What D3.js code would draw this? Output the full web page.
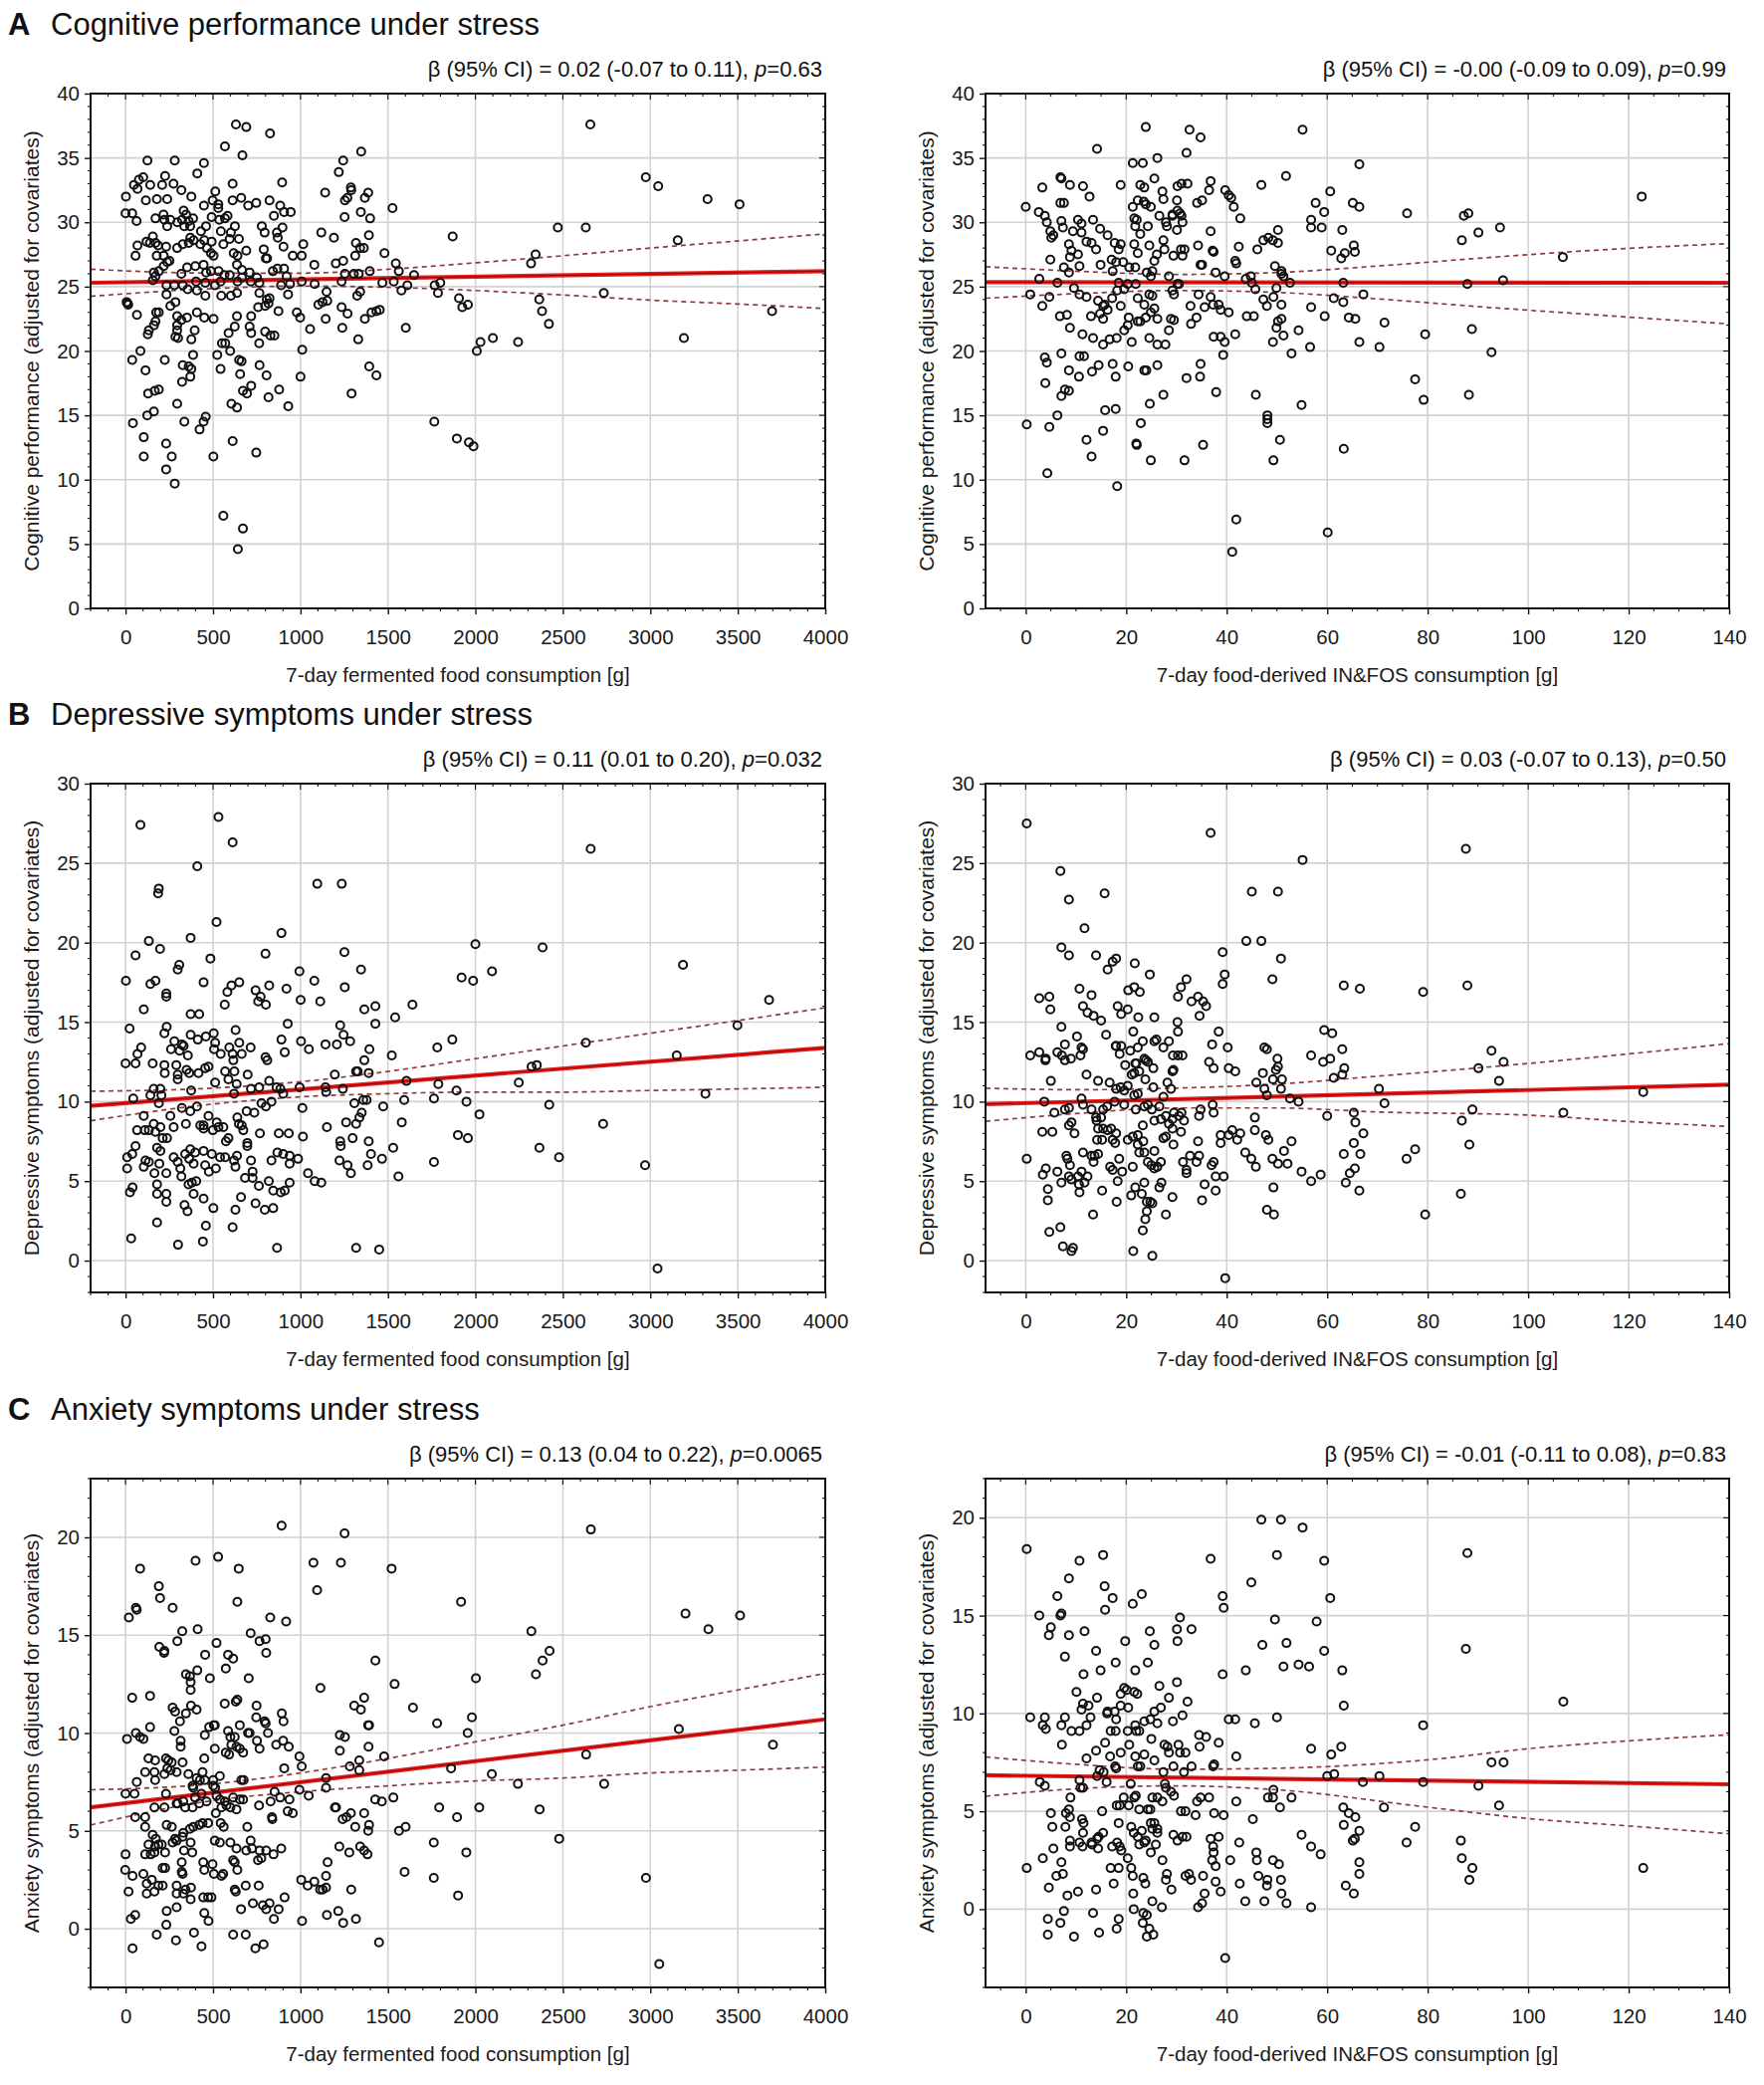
<!DOCTYPE html>
<html>
<head>
<meta charset="utf-8">
<script src="https://cdn.jsdelivr.net/npm/d3@7"></script>
<style>
  body { margin: 0; background: #fff; }
  text { font-family: "Liberation Sans", Arial, sans-serif; }
</style>
</head>
<body>
<svg id="fig" width="1772" height="2094"></svg>
<script>
// ---- data: [x, y] per participant ----
const cogFerm = [[631,37.6],[690,37.4],[826,36.9],[568,35.9],[668,35.2],[1347,35.5],[125,34.8],[281,34.8],[448,34.6],[1244,34.8],[1219,33.9],[410,33.8],[226,33.6],[101,33.5],[76,33.3],[48,32.9],[68,32.6],[141,32.9],[209,32.9],[274,33.0],[319,32.5],[612,33.0],[895,33.1],[1288,32.7],[1290,32.5],[1141,32.3],[1387,32.3],[2,32.0],[376,32.0],[513,32.4],[116,31.7],[179,31.8],[238,31.8],[448,31.3],[498,31.7],[530,31.4],[530,31.1],[612,31.7],[661,31.9],[701,31.3],[747,31.5],[823,31.7],[884,31.3],[906,30.8],[944,30.8],[848,30.5],[1254,31.7],[1268,31.9],[1368,31.9],[1345,30.8],[1398,30.3],[1252,30.4],[1526,31.1],[0,30.7],[38,30.7],[63,30.1],[171,30.3],[217,30.6],[222,30.2],[256,30.2],[238,29.7],[296,30.0],[332,30.9],[346,30.6],[323,30.2],[336,29.7],[361,30.1],[386,30.3],[369,29.7],[431,29.3],[460,29.7],[492,30.4],[536,30.2],[545,29.3],[568,30.3],[583,30.5],[625,29.7],[602,29.2],[648,28.7],[595,28.7],[779,29.7],[795,29.2],[865,29.2],[897,29.6],[870,28.8],[903,28.1],[1119,29.2],[1191,28.8],[1391,29.0],[1341,28.0],[1362,28.0],[1317,28.4],[1313,27.4],[1870,28.9],[68,28.2],[120,28.5],[156,28.9],[139,28.4],[171,28.4],[186,28.2],[232,28.1],[295,28.0],[327,28.3],[361,28.4],[370,28.8],[389,28.6],[428,28.3],[450,28.6],[465,28.0],[492,28.5],[488,27.6],[503,27.4],[57,27.4],[178,27.4],[218,27.4],[251,27.0],[559,28.3],[618,27.6],[690,27.8],[640,27.4],[637,26.7],[790,27.9],[802,27.2],[809,27.2],[956,27.4],[1016,28.3],[1007,27.4],[1079,26.7],[1202,26.8],[1244,27.0],[1480,27.6],[1545,26.8],[1562,26.2],[1649,25.9],[162,26.1],[190,26.2],[218,26.6],[238,26.9],[319,26.0],[352,26.5],[399,26.6],[446,26.7],[461,26.1],[488,26.2],[532,26.2],[565,25.9],[595,25.9],[665,26.3],[709,26.1],[751,25.7],[842,26.2],[868,26.4],[906,26.4],[921,25.8],[1254,26.0],[1305,26.0],[1333,26.0],[1396,26.2],[6,23.8],[12,23.7],[15,23.6],[156,25.5],[171,25.8],[234,25.1],[234,24.4],[279,25.1],[327,25.1],[355,24.8],[408,24.7],[403,25.4],[456,25.3],[456,24.3],[511,25.1],[543,25.4],[547,24.3],[602,24.3],[637,24.5],[640,25.4],[665,25.7],[716,25.4],[765,25.3],[765,24.5],[807,24.0],[823,24.1],[817,23.7],[798,23.5],[758,23.4],[889,25.1],[929,24.4],[940,25.2],[1007,25.4],[1081,25.2],[1102,23.6],[1126,23.8],[1149,24.6],[1153,23.9],[1235,25.4],[1341,24.6],[1324,24.3],[1235,23.4],[1269,22.9],[1468,25.3],[1533,25.4],[1577,24.7],[1611,25.1],[1767,25.1],[1799,25.3],[1786,24.5],[1906,24.1],[1925,23.4],[1957,23.6],[65,22.8],[175,23.0],[190,23.0],[171,22.3],[162,22.0],[133,21.6],[127,21.3],[256,23.5],[285,23.8],[295,22.7],[319,22.4],[295,22.0],[295,21.6],[300,21.0],[285,21.1],[351,22.6],[395,21.6],[376,20.9],[408,23.0],[450,22.6],[503,22.5],[637,22.7],[624,21.9],[589,21.4],[570,20.6],[551,20.6],[598,20.0],[718,22.7],[709,21.9],[718,21.4],[764,20.6],[798,21.5],[828,21.2],[851,21.2],[874,23.1],[979,23.0],[998,22.6],[1055,21.7],[1144,22.5],[1239,21.8],[1368,22.5],[1406,23.0],[1434,23.1],[1453,23.2],[1330,20.9],[1602,21.8],[2029,20.7],[2100,21.0],[2008,20.0],[85,20.0],[38,19.3],[114,18.5],[224,19.3],[327,18.9],[361,18.8],[386,19.7],[376,18.6],[370,18.0],[323,17.6],[524,19.7],[543,18.6],[649,19.3],[663,19.2],[655,18.2],[766,18.9],[806,18.1],[1010,20.1],[1000,18.0],[1393,18.8],[1434,18.1],[129,16.7],[167,16.9],[190,17.0],[295,15.9],[336,14.5],[458,14.9],[446,14.5],[423,13.9],[605,15.9],[637,15.6],[671,16.9],[694,16.7],[718,17.3],[817,16.4],[878,17.0],[930,15.7],[1292,16.7],[42,14.4],[124,15.0],[162,15.3],[104,13.3],[232,12.8],[104,11.8],[264,11.8],[232,10.8],[281,9.7],[502,11.8],[612,13.0],[747,12.1],[1765,14.5],[1894,13.2],[1963,12.9],[1989,12.6],[559,7.2],[671,6.2],[642,4.6],[2244,20.7],[2318,26.8],[2344,27.5],[2365,24.0],[2381,23.1],[2420,22.1],[2471,29.6],[2631,29.6],[2657,37.6],[2734,24.5],[2974,33.5],[3045,32.8],[3157,28.6],[3192,21.0],[3327,31.8],[3510,31.4],[3696,23.1]]

const cogInfos = [[23.9,37.4],[32.6,37.2],[34.8,36.6],[55.1,37.2],[14.2,35.7],[32.0,35.4],[21.3,34.6],[23.3,34.6],[26.2,35.0],[66.4,34.5],[51.8,33.6],[6.9,33.5],[7.1,33.4],[3.3,32.7],[8.8,32.9],[11.4,32.8],[12.7,32.0],[18.9,32.9],[22.8,32.9],[23.6,32.7],[25.6,33.4],[27.2,32.4],[27.4,31.8],[30.2,32.8],[31.0,33.0],[32.2,33.0],[30.1,31.7],[36.8,33.2],[36.5,32.5],[39.7,32.5],[40.4,32.1],[40.9,31.9],[41.4,31.2],[42.7,30.3],[35.1,31.7],[34.1,31.5],[46.9,32.9],[60.6,32.4],[0,31.2],[2.6,30.8],[3.8,30.5],[4.2,30.0],[6.9,31.5],[7.6,31.5],[7.1,30.1],[7.4,29.6],[4.9,29.3],[5.5,29.0],[5.1,28.8],[4.9,27.1],[10.4,30.2],[11.1,29.9],[9.4,29.3],[11.1,29.2],[12.1,28.5],[13.1,28.4],[13.4,30.2],[14.0,27.9],[8.6,28.3],[9.1,27.8],[10.4,27.5],[8.8,27.3],[7.6,26.5],[8.6,26.1],[10.7,26.6],[14.8,29.5],[16.3,29.0],[17.7,28.4],[18.9,28.3],[18.5,27.9],[17.1,27.1],[18.0,26.9],[19.4,26.9],[17.3,26.2],[14.9,26.7],[21.3,31.2],[21.6,30.3],[22.1,30.2],[21.8,29.7],[22.8,29.1],[21.6,28.3],[22.3,27.6],[21.8,26.5],[20.6,26.5],[22.3,31.7],[23.5,31.6],[23.9,31.4],[24.9,31.2],[24.3,29.7],[26.6,30.5],[27.9,30.0],[28.1,29.7],[29.2,30.5],[30.1,29.4],[30.7,30.7],[31.0,30.5],[31.2,30.0],[30.2,30.9],[29.2,30.6],[27.4,28.6],[27.6,27.9],[29.4,27.4],[26.1,27.5],[25.6,27.0],[24.6,28.2],[25.2,26.2],[24.1,26.1],[24.9,25.8],[31.2,27.4],[30.9,27.9],[31.6,27.9],[34.3,28.2],[34.8,26.7],[35.1,26.7],[37.2,27.8],[37.4,27.7],[36.8,29.3],[28.5,25.8],[30.5,25.2],[30.2,25.2],[37.8,26.1],[39.6,25.8],[42.4,28.1],[41.7,27.0],[41.9,26.8],[46.1,27.9],[47.3,28.6],[48.3,28.8],[49.2,28.6],[50.2,28.4],[50.2,29.4],[49.6,26.6],[50.9,26.2],[51.3,25.8],[52.6,25.3],[49.9,24.9],[50.9,26.0],[43.8,25.6],[44.8,25.8],[45.0,25.3],[45.7,24.8],[57.7,31.5],[59.4,30.8],[56.8,30.2],[56.8,29.6],[58.9,29.6],[63.0,29.4],[65.1,31.5],[66.4,31.2],[60.8,27.8],[62.8,27.2],[63.5,27.6],[65.3,28.2],[65.5,27.7],[63.2,25.3],[2.7,25.6],[0.9,24.4],[3.3,23.5],[4.7,24.2],[6.3,25.3],[6.8,22.7],[8.2,22.8],[8.8,21.8],[9.6,24.9],[10.7,24.4],[12.1,24.2],[11.3,21.3],[13.4,21.0],[13.0,22.7],[14.4,23.9],[15.4,23.5],[15.7,23.6],[14.8,22.9],[15.4,22.5],[16.3,23.2],[17.2,24.1],[18.2,24.7],[18.9,23.5],[18.5,25.3],[19.6,24.8],[20.3,25.2],[15.4,20.5],[16.7,20.9],[18.1,21.0],[19.6,21.6],[20.3,22.0],[20.5,22.6],[21.1,20.7],[22.3,22.3],[22.8,22.3],[23.9,22.6],[21.9,25.2],[22.3,24.1],[23.6,23.6],[24.6,24.4],[25.2,24.3],[25.6,23.3],[24.9,23.0],[26.2,22.5],[24.6,21.0],[26.2,20.5],[27.8,20.5],[28.5,21.6],[29.2,24.7],[29.5,24.4],[28.9,22.5],[29.5,22.4],[32.8,23.5],[32.9,22.1],[34.0,22.6],[34.4,24.4],[35.6,23.4],[36.8,24.2],[37.3,23.6],[38.4,23.6],[38.8,23.2],[40.4,23.0],[37.4,21.1],[38.8,21.1],[39.6,20.7],[39.3,19.7],[41.7,21.3],[44.0,22.7],[45.4,22.7],[47.3,24.0],[48.0,23.5],[49.3,24.2],[50.9,23.6],[50.2,22.3],[50.9,22.5],[49.9,21.8],[51.3,21.2],[49.2,20.7],[54.3,21.6],[52.9,19.8],[56.8,23.4],[56.6,20.3],[59.5,22.7],[61.3,24.1],[63.2,23.8],[64.3,22.6],[65.6,22.5],[67.2,24.4],[66.4,20.7],[71.4,22.2],[70.4,20.3],[3.8,19.5],[4.2,19.1],[7.1,19.8],[8.6,18.5],[10.7,19.6],[11.6,19.6],[10.6,18.0],[13.2,18.4],[14.5,18.9],[17.3,19.0],[17.9,18.0],[20.4,18.8],[23.6,18.5],[24.0,18.5],[26.2,18.9],[3.9,17.5],[7.1,16.5],[7.8,17.0],[8.6,16.9],[6.3,15.0],[0.2,14.3],[4.7,14.1],[4.3,10.5],[15.8,15.4],[17.9,15.5],[15.4,13.8],[12.1,13.1],[13.1,11.8],[18.2,9.5],[22.9,14.4],[22.0,12.8],[22.1,12.7],[24.7,15.9],[24.9,11.5],[27.4,16.6],[31.6,11.5],[32.0,17.9],[34.7,18.0],[34.8,19.0],[35.3,12.7],[37.9,16.8],[45.8,16.6],[48.1,15.0],[48.1,14.7],[48.1,14.4],[50.6,13.1],[49.3,11.5],[54.9,15.8],[63.3,12.4],[41.9,6.9],[41.1,4.4],[60.1,5.9],[75.9,30.7],[87.2,30.5],[88.1,30.7],[86.8,28.6],[90.1,29.2],[94.4,29.6],[87.9,25.2],[95.0,25.5],[88.8,21.7],[92.7,19.9],[88.2,16.6],[77.5,17.8],[79.2,16.2],[79.5,21.3],[106.9,27.3],[122.6,32.0]]

const depFerm = [[85,27.4],[531,27.9],[612,26.3],[410,24.8],[190,23.4],[186,23.1],[1096,23.7],[1236,23.7],[520,21.3],[891,20.6],[133,20.1],[197,19.6],[57,19.2],[372,20.3],[485,19.0],[800,19.3],[1251,19.4],[2000,19.9],[307,18.6],[298,18.3],[994,18.2],[1346,18.3],[2095,18.2],[1921,17.8],[1987,17.6],[2,17.6],[142,17.4],[171,17.6],[233,16.8],[233,16.6],[446,17.5],[605,17.3],[650,17.5],[582,16.9],[567,16.1],[743,17.0],[772,16.6],[758,16.3],[802,16.1],[821,17.3],[920,17.1],[1001,16.4],[1079,17.6],[1113,16.3],[1253,17.2],[1365,15.8],[1428,16.0],[1428,14.9],[1541,15.3],[1640,16.1],[104,15.8],[23,14.6],[235,14.7],[222,14.3],[279,13.8],[260,13.3],[322,13.6],[309,13.2],[356,12.9],[332,13.5],[372,14.2],[413,13.9],[372,15.5],[421,15.5],[459,14.1],[504,14.3],[512,13.7],[506,13.3],[544,13.0],[593,13.4],[629,14.5],[650,13.7],[612,13.0],[664,13.0],[715,13.4],[927,14.9],[891,13.9],[910,13.1],[1003,13.8],[1048,13.3],[1143,13.6],[1208,13.6],[1227,14.8],[1246,14.2],[1284,13.8],[1394,13.3],[1365,12.6],[1318,11.9],[1327,11.9],[1390,11.8],[1522,12.9],[1782,13.4],[1868,13.9],[0,12.4],[57,12.4],[68,13.0],[89,13.4],[155,12.4],[222,12.3],[224,11.8],[199,10.8],[161,10.8],[142,10.4],[205,10.4],[190,9.9],[290,12.3],[298,11.7],[298,11.4],[349,12.0],[375,10.7],[364,11.8],[417,11.8],[455,12.1],[474,12.2],[512,11.2],[569,11.9],[588,11.4],[622,11.9],[635,11.1],[616,12.6],[698,11.7],[620,10.5],[800,12.8],[810,12.6],[821,11.3],[764,10.9],[717,10.8],[863,10.9],[885,10.8],[1196,11.7],[1143,10.9],[1147,10.6],[1242,10.8],[995,10.9],[901,10.5],[1606,11.3],[1788,11.1],[1892,10.7],[44,10.2],[104,9.1],[66,8.2],[110,8.2],[133,8.2],[161,8.6],[171,8.1],[199,8.4],[212,7.7],[237,7.7],[180,7.1],[199,6.9],[114,6.3],[133,6.2],[104,5.9],[193,6.1],[233,5.5],[165,5.5],[9,6.5],[38,6.7],[57,7.2],[9,5.8],[25,4.3],[40,4.6],[180,4.8],[180,4.2],[233,4.2],[233,3.7],[180,2.4],[32,1.4],[256,9.1],[275,8.4],[345,8.6],[322,9.6],[370,9.4],[408,9.7],[427,8.5],[446,8.3],[446,8.5],[474,9.1],[499,8.2],[521,8.7],[531,8.4],[559,8.4],[574,7.5],[588,7.7],[275,6.5],[298,6.2],[313,5.8],[319,5.3],[341,6.7],[370,7.0],[364,6.4],[398,6.8],[389,6.1],[446,6.9],[455,6.0],[476,5.6],[516,5.8],[493,6.7],[540,6.5],[569,6.5],[360,4.8],[379,4.9],[404,5.0],[389,4.2],[337,3.5],[354,3.1],[446,3.9],[459,2.2],[442,1.2],[300,1.0],[502,3.3],[612,2.1],[620,6.3],[637,6.6],[628,5.9],[648,8.6],[664,8.5],[673,8.2],[696,7.4],[696,7.2],[639,9.0],[628,3.2],[660,4.0],[683,5.2],[726,5.6],[726,5.2],[762,4.7],[743,3.6],[796,3.2],[844,3.3],[819,5.0],[844,4.4],[887,4.3],[910,4.4],[938,4.9],[768,8.0],[692,9.4],[736,9.3],[777,9.9],[802,9.7],[834,10.0],[717,6.3],[834,6.3],[868,6.8],[901,6.7],[938,6.6],[938,6.1],[986,6.4],[876,8.0],[933,8.0],[1011,9.6],[1014,7.8],[1043,5.5],[1081,5.0],[1119,4.9],[1151,8.4],[1227,7.5],[1230,7.2],[1223,6.3],[1269,6.0],[1288,5.5],[1298,7.7],[1318,8.6],[1337,9.0],[1350,9.3],[1308,9.9],[1261,8.7],[1390,7.5],[1403,6.7],[1384,6.0],[1466,6.4],[1530,7.1],[1560,5.3],[1579,8.7],[1593,10.1],[1473,9.7],[1359,10.1],[1378,10.1],[866,0.8],[1318,0.8],[1450,0.7],[1763,10.2],[1949,10.0],[2023,9.2],[1900,7.9],[1957,7.7],[1763,6.2],[2659,25.9],[2384,19.7],[3187,18.6],[3679,16.4],[3498,14.8],[2631,13.7],[3151,12.9],[2321,12.2],[2351,12.3],[2248,11.2],[3315,10.5],[2422,9.8],[2730,8.6],[2366,7.1],[2478,6.5],[2970,6.0],[3041,-0.5]]

const depInfos = [[0.2,27.5],[36.8,26.9],[55.1,25.2],[6.9,24.5],[8.6,22.7],[15.7,23.1],[11.7,20.9],[45.0,23.2],[50.2,23.2],[43.9,20.1],[46.9,20.1],[50.8,19.0],[49.1,17.7],[7.1,19.7],[8.6,19.2],[14.0,19.2],[16.3,18.3],[17.3,18.8],[18.0,19.0],[21.7,18.7],[24.7,18.0],[39.2,19.4],[39.6,18.0],[39.2,17.4],[32.0,17.7],[30.9,17.2],[30.3,16.6],[33.0,16.3],[34.3,16.6],[35.3,16.3],[35.9,16.0],[34.6,15.4],[2.7,16.5],[4.7,16.6],[4.9,15.8],[7.1,14.7],[10.7,17.1],[13.1,16.7],[11.4,16.0],[12.3,15.6],[13.5,15.4],[15.0,15.1],[16.0,14.2],[18.3,16.0],[19.0,15.5],[20.3,15.8],[20.4,17.0],[21.6,17.2],[22.7,16.9],[22.4,15.3],[25.6,15.3],[21.4,14.4],[23.3,13.8],[22.3,13.4],[20.8,13.2],[18.0,13.5],[19.0,13.5],[18.7,13.0],[19.8,12.3],[21.8,12.4],[22.6,11.9],[21.6,11.8],[23.9,12.6],[23.6,12.7],[24.3,12.5],[26.0,13.9],[25.6,13.8],[27.4,13.4],[28.5,13.8],[29.3,12.9],[30.3,12.9],[31.2,12.9],[30.3,14.4],[30.2,15.0],[29.4,12.0],[0.9,12.9],[2.7,13.1],[4.0,12.7],[3.9,12.6],[6.3,13.1],[7.2,12.9],[7.8,12.6],[9.0,12.7],[7.8,13.6],[10.2,14.1],[10.9,12.9],[11.1,13.4],[11.4,13.3],[5.0,11.3],[12.1,11.7],[14.4,11.3],[16.7,11.2],[17.9,13.5],[21.1,11.7],[22.0,12.4],[23.8,11.4],[25.4,10.9],[28.2,11.2],[28.9,10.8],[29.2,11.9],[25.4,12.1],[36.5,12.5],[37.4,12.1],[37.1,13.6],[38.4,14.4],[40.2,13.4],[40.4,12.1],[41.7,11.9],[47.5,13.4],[48.0,13.3],[50.1,12.7],[50.2,12.2],[49.8,12.0],[49.2,11.4],[47.2,11.8],[45.9,11.2],[47.5,10.8],[48.0,10.4],[51.0,11.4],[50.8,10.8],[52.6,10.2],[54.3,10.0],[56.8,12.9],[59.4,14.5],[61.0,14.3],[59.2,12.5],[60.6,12.7],[63.0,13.3],[63.4,12.1],[61.3,11.5],[63.0,11.7],[63.3,17.3],[66.5,17.1],[70.3,10.8],[71.4,9.9],[3.7,10.0],[5.7,9.3],[7.8,9.5],[8.6,9.6],[11.1,10.2],[11.4,9.8],[13.1,9.5],[14.1,8.8],[15.0,9.0],[15.4,9.5],[16.2,9.7],[17.7,10.0],[18.0,10.8],[18.9,10.9],[19.6,10.7],[20.3,11.0],[19.6,9.8],[21.9,9.5],[21.6,10.4],[22.3,10.5],[23.6,9.7],[24.3,9.8],[25.1,9.5],[25.6,8.8],[26.6,9.7],[27.4,10.3],[3.3,8.1],[5.3,8.1],[8.6,8.5],[9.1,8.7],[9.7,8.0],[14.2,7.6],[14.4,8.3],[15.4,8.3],[16.3,8.2],[17.0,8.3],[18.0,8.0],[17.3,7.6],[17.8,7.4],[15.2,7.6],[14.0,9.0],[20.3,7.6],[21.3,7.8],[22.3,7.9],[23.3,8.5],[23.4,7.5],[22.3,7.3],[22.6,6.8],[23.6,6.8],[25.6,6.9],[24.3,6.2],[25.0,6.0],[25.6,5.8],[26.9,6.2],[26.2,5.9],[26.9,8.9],[27.9,9.1],[28.5,8.6],[29.2,8.9],[29.5,9.3],[30.5,9.1],[31.0,9.3],[31.5,8.8],[27.4,7.7],[27.9,7.8],[29.4,7.3],[30.9,8.1],[29.2,8.3],[34.5,9.1],[34.8,9.5],[37.2,9.8],[37.4,9.3],[34.3,7.5],[32.7,6.6],[34.5,6.6],[34.0,6.2],[31.3,6.2],[32.0,5.7],[32.0,5.5],[38.8,7.9],[38.8,7.4],[40.4,7.9],[41.1,8.2],[42.1,7.6],[42.7,8.0],[43.7,6.8],[44.9,6.4],[45.6,8.2],[45.6,9.0],[45.8,5.9],[47.8,7.9],[48.3,7.6],[49.1,6.4],[50.2,6.1],[51.4,6.9],[52.1,6.1],[52.9,7.5],[54.9,5.6],[56.8,5.0],[58.7,5.4],[63.3,6.7],[65.3,7.4],[66.6,6.7],[67.2,8.0],[65.6,8.7],[65.3,9.3],[60.0,9.1],[0.2,6.4],[3.4,5.4],[4.0,5.8],[6.3,5.6],[7.1,4.9],[8.6,5.3],[9.1,5.1],[10.4,5.3],[10.6,4.8],[10.7,4.3],[11.7,4.9],[11.1,5.6],[12.3,5.3],[11.4,6.8],[13.1,6.6],[13.7,6.6],[14.4,6.7],[13.5,6.2],[15.2,4.4],[16.8,5.9],[17.3,5.7],[18.6,6.4],[19.2,5.6],[18.3,5.0],[18.1,3.7],[8.1,6.6],[8.3,6.4],[8.8,6.0],[4.4,4.5],[4.4,3.8],[13.4,2.9],[4.7,1.8],[6.9,2.1],[7.4,0.9],[9.4,0.8],[9.1,0.6],[21.3,5.9],[21.8,4.6],[21.0,4.1],[23.1,4.2],[23.6,4.9],[24.1,3.7],[24.1,3.1],[23.8,2.6],[23.3,1.9],[25.2,3.6],[24.8,3.7],[27.0,4.9],[26.6,4.6],[27.9,2.9],[29.2,4.0],[21.4,0.6],[25.2,0.3],[35.1,3.8],[35.6,4.8],[37.8,4.4],[37.8,5.3],[39.4,5.3],[37.0,6.0],[37.4,6.2],[48.0,3.2],[49.4,2.9],[49.3,4.6],[63.7,4.9],[64.5,5.5],[65.5,5.8],[66.4,4.4],[39.7,-1.1],[87.6,25.9],[87.9,17.3],[79.1,16.9],[92.7,13.2],[95.1,12.5],[90.1,12.1],[94.2,11.3],[122.9,10.6],[88.9,9.5],[86.8,8.8],[107.0,9.3],[88.3,7.3],[75.8,6.4],[77.5,7.0],[86.6,4.2],[79.5,2.9]]

const anxFerm = [[892,20.6],[1252,20.2],[529,19.0],[400,18.8],[83,18.4],[647,18.4],[1074,18.7],[1231,18.7],[1521,18.4],[1095,17.3],[190,17.5],[197,16.9],[59,16.4],[64,16.3],[19,15.9],[269,16.4],[639,16.7],[827,15.9],[918,15.7],[1918,16.7],[324,15.2],[296,14.7],[412,15.3],[193,14.4],[222,14.2],[220,14.1],[520,14.6],[455,14.0],[586,14.0],[615,13.8],[573,13.3],[715,15.1],[766,14.7],[801,14.8],[804,14.1],[704,12.8],[482,12.8],[345,13.0],[368,12.9],[410,13.2],[372,12.6],[372,12.2],[1428,13.7],[1538,12.5],[2003,12.8],[1114,12.3],[38,11.8],[140,11.9],[269,11.3],[283,11.1],[311,10.6],[345,11.0],[374,11.4],[406,11.2],[567,11.5],[630,11.6],[639,11.7],[749,11.4],[747,10.8],[795,10.6],[801,10.5],[893,11.0],[903,10.6],[1307,11.4],[1345,11.2],[1364,11.8],[1387,10.4],[1392,10.4],[1643,11.3],[1781,10.5],[1980,10.8],[1956,10.0],[8,9.7],[59,10.0],[83,9.8],[102,9.7],[140,10.3],[279,10.1],[315,9.6],[315,9.3],[453,9.9],[478,10.3],[505,10.4],[510,10.4],[586,10.1],[599,9.8],[624,9.8],[653,10.4],[700,10.0],[709,10.0],[605,9.4],[634,9.3],[653,9.2],[672,9.0],[573,9.0],[592,8.9],[510,9.2],[450,8.7],[751,9.6],[766,9.2],[814,10.0],[861,9.4],[901,9.6],[933,9.3],[1225,9.9],[1254,9.8],[1225,9.1],[1389,9.3],[1336,8.6],[1282,8.3],[1336,8.1],[1478,8.8],[994,8.8],[1007,8.3],[907,8.2],[1861,8.2],[2094,7.9],[131,8.7],[169,8.6],[231,8.7],[245,8.6],[264,8.5],[326,8.5],[239,8.2],[258,8.1],[112,8.0],[165,8.0],[222,7.9],[292,8.0],[359,7.9],[383,7.3],[406,7.7],[440,8.0],[425,7.6],[453,7.6],[64,7.5],[501,7.6],[539,7.8],[501,7.3],[0,6.9],[51,6.9],[169,7.6],[231,6.9],[292,6.4],[330,6.5],[387,7.2],[397,6.7],[434,6.9],[463,6.5],[421,6.4],[383,6.2],[341,6.2],[298,6.4],[222,6.2],[165,6.2],[112,5.7],[512,7.2],[520,6.8],[539,6.6],[567,6.5],[577,6.3],[615,6.7],[653,6.6],[662,7.6],[675,7.6],[672,6.6],[634,6.1],[599,6.2],[548,6.2],[516,5.9],[763,6.3],[829,6.5],[852,7.0],[884,6.7],[937,6.6],[994,7.1],[1047,6.8],[1146,7.7],[1146,7.2],[927,6.0],[956,5.9],[837,5.7],[839,5.6],[1197,6.2],[1203,6.2],[1241,5.6],[1263,5.7],[1288,5.9],[1313,5.2],[1364,5.9],[1392,5.3],[1387,5.0],[1427,6.6],[1465,6.5],[1531,6.7],[1563,5.0],[1601,5.2],[1793,6.2],[1895,5.7],[2022,6.2],[55,5.7],[112,5.2],[155,4.8],[173,4.6],[131,4.3],[188,4.3],[207,4.3],[169,4.2],[165,3.9],[144,3.8],[112,3.8],[0,3.8],[226,3.9],[269,4.4],[292,4.5],[283,4.6],[326,4.7],[330,4.9],[368,5.1],[387,5.2],[421,5.3],[440,5.4],[472,5.4],[544,5.4],[561,5.2],[235,5.3],[264,5.2],[334,4.0],[372,4.4],[381,3.9],[510,4.5],[539,4.4],[599,4.4],[634,4.1],[615,3.5],[624,3.4],[696,5.2],[715,4.5],[690,4.0],[723,4.1],[766,4.0],[804,4.0],[776,3.6],[757,3.5],[846,3.8],[890,4.1],[-2,3.0],[40,2.7],[102,2.8],[121,2.3],[150,2.5],[121,1.8],[165,1.9],[188,2.2],[212,2.2],[212,3.1],[226,3.1],[292,2.2],[321,3.4],[321,2.9],[326,2.8],[292,1.8],[343,2.0],[374,2.1],[372,1.5],[330,1.8],[17,1.9],[30,0.5],[55,0.7],[235,0.9],[292,1.1],[233,0.2],[178,-0.3],[288,-0.6],[391,-0.2],[434,-0.9],[450,0.8],[474,0.4],[40,-1.0],[444,3.4],[450,3.0],[497,3.3],[505,2.8],[548,2.7],[558,2.8],[444,1.6],[472,1.6],[491,1.6],[624,2.0],[630,1.9],[639,3.0],[687,2.2],[761,2.2],[728,1.3],[785,1.2],[804,1.0],[823,1.3],[875,1.0],[848,0.5],[909,1.6],[660,1.0],[615,-0.3],[687,-0.3],[742,-1.0],[789,-0.8],[1004,2.5],[1041,2.2],[1079,2.4],[1127,2.0],[1112,2.0],[1146,2.1],[1146,2.7],[1155,3.4],[1009,0.4],[1151,0.7],[1216,0.9],[1244,0.3],[1290,2.0],[1317,0.5],[1449,-0.7],[1222,4.2],[1279,3.9],[1341,4.2],[1364,4.0],[1383,3.8],[1595,2.9],[1762,4.4],[1762,2.6],[1948,3.9],[1901,1.7],[2660,20.4],[2320,15.2],[2424,14.2],[2384,13.7],[2346,13.0],[3201,16.1],[3332,15.3],[3513,16.0],[3163,10.2],[3701,9.4],[2633,8.9],[2243,7.4],[2736,7.4],[2367,6.1],[2479,4.6],[2975,2.6],[3051,-1.8]]

const anxInfos = [[46.9,19.9],[50.8,19.9],[55.1,19.5],[0.2,18.4],[10.7,17.8],[15.4,18.1],[36.8,17.9],[50.0,18.1],[59.4,17.8],[8.6,16.9],[6.3,16.0],[6.9,15.0],[7.1,15.1],[5.0,14.4],[4.6,14.0],[2.7,15.0],[8.6,14.0],[15.7,16.5],[17.3,15.9],[15.8,15.3],[21.3,15.6],[23.1,16.1],[39.2,16.0],[39.4,15.4],[44.9,16.7],[60.6,15.9],[11.7,14.2],[7.8,12.9],[14.0,13.2],[14.9,12.2],[17.9,12.6],[19.8,13.7],[11.5,12.0],[24.7,14.2],[25.6,13.5],[24.3,12.6],[21.8,12.2],[30.1,14.3],[30.7,14.9],[30.2,13.7],[33.0,14.3],[39.2,12.0],[43.8,12.2],[49.6,14.8],[47.1,13.5],[51.9,13.6],[51.3,12.4],[54.3,12.5],[56.4,12.4],[57.9,14.7],[59.4,13.2],[63.0,12.2],[63.3,10.4],[10.1,11.1],[11.1,10.2],[11.4,10.5],[12.5,10.4],[14.2,10.8],[12.9,9.8],[12.1,9.4],[10.7,9.1],[14.0,8.1],[12.1,7.7],[9.1,9.1],[7.2,8.4],[7.1,9.4],[7.8,9.8],[4.0,9.2],[3.4,9.4],[3.8,9.8],[0.9,9.8],[16.3,10.1],[16.2,10.0],[17.7,10.1],[18.0,9.7],[16.9,9.1],[18.9,11.0],[19.6,11.3],[20.1,11.2],[20.4,10.3],[18.9,10.4],[17.9,9.1],[16.8,7.8],[18.9,8.0],[17.8,7.3],[15.8,8.5],[14.7,7.1],[21.6,11.1],[22.2,11.0],[21.8,9.4],[22.0,9.1],[22.6,9.1],[23.6,9.6],[24.8,9.7],[25.6,10.1],[26.2,9.5],[26.9,10.3],[25.0,8.7],[20.6,8.4],[21.8,7.8],[22.3,7.3],[22.8,7.3],[23.6,7.9],[25.6,7.6],[20.3,9.1],[26.6,11.4],[28.5,10.8],[30.1,11.6],[32.2,10.6],[31.2,9.9],[29.3,9.6],[27.6,8.4],[28.2,8.3],[28.5,8.0],[30.4,8.4],[30.7,8.0],[31.8,8.0],[33.0,7.3],[31.5,7.0],[29.4,7.3],[27.4,7.0],[27.7,6.4],[34.5,8.9],[35.9,8.8],[34.6,8.3],[38.4,8.5],[37.5,7.4],[37.3,7.3],[41.9,7.8],[40.4,9.7],[41.7,9.7],[45.6,9.5],[50.0,9.8],[56.8,8.2],[60.8,7.9],[62.8,8.3],[60.0,6.8],[61.4,6.9],[67.1,6.5],[70.4,6.8],[71.3,5.2],[2.8,6.5],[3.8,6.3],[10.7,6.6],[14.2,6.8],[16.1,6.5],[15.5,7.0],[18.0,7.2],[10.9,6.2],[11.4,6.2],[8.9,5.7],[8.6,5.1],[8.0,4.9],[8.8,4.7],[5.0,4.9],[5.3,4.2],[7.9,4.2],[11.2,4.6],[11.5,4.4],[11.4,3.9],[13.2,3.3],[14.2,3.6],[14.5,3.7],[14.4,3.1],[15.2,5.0],[15.4,3.9],[13.1,3.4],[8.8,3.5],[8.8,3.2],[10.7,3.4],[11.3,3.2],[5.5,3.1],[7.1,2.4],[6.1,1.7],[7.4,1.8],[18.1,5.3],[18.7,5.3],[19.5,5.7],[20.5,5.3],[18.5,4.4],[18.2,3.4],[18.7,3.2],[19.0,3.0],[20.3,2.6],[21.0,2.1],[21.3,1.7],[21.4,0.8],[23.4,1.6],[23.8,1.3],[17.2,3.2],[16.9,2.1],[18.5,2.1],[17.5,1.3],[20.9,6.4],[21.6,5.7],[21.9,5.8],[22.6,5.1],[24.3,5.1],[24.8,5.1],[25.2,5.7],[26.2,5.7],[27.2,5.5],[27.9,6.2],[28.9,6.0],[29.5,5.8],[30.9,5.0],[31.8,5.0],[33.8,4.8],[34.1,5.5],[34.8,5.7],[36.5,5.7],[37.5,4.9],[39.4,4.8],[41.9,5.5],[45.2,4.6],[48.2,5.7],[49.2,5.7],[49.3,6.1],[50.6,5.2],[52.9,5.7],[63.2,5.2],[64.3,4.9],[65.6,4.7],[63.3,4.3],[66.4,4.0],[21.0,4.2],[21.5,3.9],[22.3,3.7],[22.6,3.3],[23.1,4.0],[23.9,3.5],[23.6,3.4],[24.9,4.4],[25.2,4.1],[25.6,4.4],[26.2,4.1],[26.2,3.9],[25.9,3.3],[24.9,2.9],[27.2,2.5],[29.4,3.8],[30.2,3.5],[31.2,3.7],[32.0,3.7],[28.1,1.8],[27.9,1.5],[29.0,1.0],[31.8,1.7],[32.5,1.8],[32.9,1.5],[35.3,1.7],[35.6,0.8],[34.3,0.1],[35.1,0.3],[36.8,3.6],[37.3,3.2],[37.4,2.9],[37.8,2.2],[37.1,2.5],[37.8,1.4],[38.8,0.9],[38.4,3.7],[40.7,2.5],[42.5,3.4],[42.6,1.3],[43.7,0.4],[45.9,2.9],[46.0,2.5],[46.3,1.7],[47.5,0.4],[48.1,1.5],[48.0,1.2],[49.2,2.5],[50.4,2.3],[50.8,1.5],[50.9,0.8],[51.9,0.3],[54.9,3.8],[56.8,3.2],[58.7,2.8],[56.8,0.1],[66.4,2.4],[66.4,1.8],[63.7,1.2],[65.3,0.8],[65.1,3.5],[65.5,3.6],[0.2,2.1],[3.4,2.6],[4.6,1.1],[8.3,0.7],[10.4,0.9],[14.0,1.0],[7.6,-0.1],[4.4,-0.5],[4.4,-1.3],[6.9,-0.7],[9.6,-1.4],[13.4,-0.2],[14.6,-1.2],[18.1,-1.0],[18.5,-0.5],[21.5,0.0],[23.4,-0.2],[24.1,-0.3],[23.3,-0.7],[24.6,-1.0],[24.1,-1.4],[25.4,-1.3],[27.1,0.1],[25.2,0.4],[39.7,-2.5],[87.9,18.2],[87.6,13.3],[107.0,10.6],[79.1,9.4],[92.7,7.5],[95.1,7.5],[90.1,6.3],[94.2,5.3],[79.1,6.5],[75.8,3.4],[77.5,4.2],[86.6,3.5],[86.8,2.6],[88.9,2.1],[88.3,1.5],[122.9,2.1]]

// fitted line end points and 95% band [x, lower, upper]
const cogFermFit = [[-200, 25.3], [4000, 26.2]]
const cogFermCI = [[-200,24.25,26.35],[500,24.85,26.05],[1000,25.05,26.05],[1500,24.95,26.35],[2000,24.7,26.85],[2500,24.35,27.4],[3000,23.95,28.0],[3500,23.65,28.55],[4000,23.3,29.1]]
const cogInfosFit = [[-8, 25.35], [140, 25.3]]
const cogInfosCI = [[-8,24.1,26.55],[10,24.45,26.2],[30,24.7,25.95],[50,24.55,26.1],[70,24.05,26.6],[90,23.45,27.2],[110,22.9,27.75],[140,22.1,28.35]]
const depFermFit = [[-200, 9.73], [4000, 13.38]]
const depFermCI = [[-200,8.8,10.65],[500,9.85,10.85],[1000,10.3,11.25],[1500,10.5,11.9],[2000,10.6,12.7],[2500,10.6,13.5],[3000,10.7,14.3],[3500,10.8,15.1],[4000,10.9,15.9]]
const depInfosFit = [[-8, 9.84], [140, 11.06]]
const depInfosCI = [[-8,8.76,10.84],[10,9.25,10.75],[30,9.6,10.85],[50,9.6,11.1],[70,9.35,11.6],[100,9.15,12.4],[120,8.75,13.0],[140,8.43,13.65]]
const anxFermFit = [[-200, 6.2], [4000, 10.7]]
const anxFermCI = [[-200,5.3,7.1],[500,6.55,7.4],[1000,7.0,7.96],[1500,7.3,8.7],[2000,7.55,9.55],[2500,7.7,10.4],[3000,7.96,11.35],[3500,8.1,12.2],[4000,8.26,13.05]]
const anxInfosFit = [[-8, 6.84], [140, 6.38]]
const anxInfosCI = [[-8,5.77,7.78],[10,6.15,7.4],[30,6.3,7.15],[50,6.1,7.2],[80,5.21,7.63],[100,4.63,8.2],[120,4.25,8.6],[140,3.85,8.91]]

// tick labels
const fermTicks = [0, 500, 1000, 1500, 2000, 2500, 3000, 3500, 4000]
const infosTicks = [0, 20, 40, 60, 80, 100, 120, 140]
const cogTicks = [0, 5, 10, 15, 20, 25, 30, 35, 40]
const depTicks = [0, 5, 10, 15, 20, 25, 30]
const anxTicks = [0, 5, 10, 15, 20]

const rowTitles = ['Cognitive performance under stress', 'Depressive symptoms under stress', 'Anxiety symptoms under stress']
const rowLetters = ['A', 'B', 'C']
const yTitles = ['Cognitive performance (adjusted for covariates)', 'Depressive symptoms (adjusted for covariates)', 'Anxiety symptoms (adjusted for covariates)']
const xTitles = ['7-day fermented food consumption [g]', '7-day food-derived IN&FOS consumption [g]']
const stats = [
  ['0.02 (-0.07 to 0.11)', '0.63'], ['-0.00 (-0.09 to 0.09)', '0.99'],
  ['0.11 (0.01 to 0.20)', '0.032'], ['0.03 (-0.07 to 0.13)', '0.50'],
  ['0.13 (0.04 to 0.22)', '0.0065'], ['-0.01 (-0.11 to 0.08)', '0.83']
]

// ---- layout ----
const FONT = '"Liberation Sans", Arial, sans-serif'
const GRID = '#d2d2d2'
const FIT = '#e10a0a'
const BAND = '#8e3b3b'
const INK = '#111'
const COLS = [{ x0: 91, x1: 829 }, { x0: 990, x1: 1737 }]
const ROWS = [{ top: 94, bottom: 611 }, { top: 787, bottom: 1298 }, { top: 1485, bottom: 1996 }]

const panels = [
  { row: 0, col: 0, pts: cogFerm, fit: cogFermFit, ci: cogFermCI, xd: [-200, 4000], yd: [0, 40], xt: fermTicks, yt: cogTicks, xm: 100, ym: 1 },
  { row: 0, col: 1, pts: cogInfos, fit: cogInfosFit, ci: cogInfosCI, xd: [-8, 140], yd: [0, 40], xt: infosTicks, yt: cogTicks, xm: 5, ym: 1 },
  { row: 1, col: 0, pts: depFerm, fit: depFermFit, ci: depFermCI, xd: [-200, 4000], yd: [-2, 30], xt: fermTicks, yt: depTicks, xm: 100, ym: 1 },
  { row: 1, col: 1, pts: depInfos, fit: depInfosFit, ci: depInfosCI, xd: [-8, 140], yd: [-2, 30], xt: infosTicks, yt: depTicks, xm: 5, ym: 1 },
  { row: 2, col: 0, pts: anxFerm, fit: anxFermFit, ci: anxFermCI, xd: [-200, 4000], yd: [-3, 23], xt: fermTicks, yt: anxTicks, xm: 100, ym: 1 },
  { row: 2, col: 1, pts: anxInfos, fit: anxInfosFit, ci: anxInfosCI, xd: [-8, 140], yd: [-4, 22], xt: infosTicks, yt: anxTicks, xm: 5, ym: 1 }
]

const svg = d3.select('#fig')
svg.append('rect').attr('width', 1772).attr('height', 2094).attr('fill', '#fff')

// row headings
rowTitles.forEach((t, i) => {
  const yb = ROWS[i].top - 59
  svg.append('text').attr('x', 8).attr('y', yb)
    .attr('font-size', 31).attr('font-weight', 'bold').attr('fill', INK).text(rowLetters[i])
  svg.append('text').attr('x', 51).attr('y', yb)
    .attr('font-size', 31).attr('fill', INK).text(t)
})

const minorTicks = (domain, step, majors) =>
  d3.range(Math.ceil(domain[0] / step) * step, domain[1] + step / 2, step)
    .filter(v => !majors.some(m => Math.abs(m - v) < 1e-9))

panels.forEach((p, i) => {
  const { x0, x1 } = COLS[p.col]
  const { top, bottom } = ROWS[p.row]
  const x = d3.scaleLinear().domain(p.xd).range([x0, x1])
  const y = d3.scaleLinear().domain(p.yd).range([bottom, top])
  const g = svg.append('g')

  // grid
  g.append('g').selectAll('line').data(p.xt).join('line')
    .attr('x1', d => x(d)).attr('x2', d => x(d)).attr('y1', top).attr('y2', bottom)
    .attr('stroke', GRID).attr('stroke-width', 1.6)
  g.append('g').selectAll('line').data(p.yt).join('line')
    .attr('y1', d => y(d)).attr('y2', d => y(d)).attr('x1', x0).attr('x2', x1)
    .attr('stroke', GRID).attr('stroke-width', 1.6)

  // confidence band (dashed) and fitted line
  const band = k => d3.line().x(d => x(d[0])).y(d => y(d[k])).curve(d3.curveMonotoneX)
  ;[1, 2].forEach(k => {
    g.append('path').datum(p.ci).attr('d', band(k))
      .attr('fill', 'none').attr('stroke', BAND).attr('stroke-width', 1.7)
      .attr('stroke-dasharray', '5,4')
  })
  const fitLine = d3.line().x(d => x(d[0])).y(d => y(d[1]))
  g.append('path').datum(p.fit).attr('d', fitLine)
    .attr('fill', 'none').attr('stroke', FIT).attr('stroke-width', 4.2).attr('stroke-opacity', 0.9)
  g.append('path').datum(p.fit).attr('d', fitLine)
    .attr('fill', 'none').attr('stroke', '#a80000').attr('stroke-width', 1.2)

  // points
  g.append('g').selectAll('circle').data(p.pts).join('circle')
    .attr('cx', d => x(d[0])).attr('cy', d => y(d[1])).attr('r', 4)
    .attr('fill', 'none').attr('stroke', INK).attr('stroke-width', 2)

  // frame
  g.append('rect').attr('x', x0).attr('y', top).attr('width', x1 - x0).attr('height', bottom - top)
    .attr('fill', 'none').attr('stroke', INK).attr('stroke-width', 2)

  // axes with labels
  const ax = g.append('g').attr('transform', `translate(0,${bottom})`)
    .call(d3.axisBottom(x).tickValues(p.xt).tickFormat(d3.format('d')).tickSize(6).tickPadding(15))
  const ay = g.append('g').attr('transform', `translate(${x0},0)`)
    .call(d3.axisLeft(y).tickValues(p.yt).tickFormat(d3.format('d')).tickSize(6).tickPadding(5))
  ;[ax, ay].forEach(a => {
    a.select('.domain').remove()
    a.attr('font-family', FONT).attr('font-size', 20.5)
    a.selectAll('line').attr('stroke', INK).attr('stroke-width', 1.4)
    a.selectAll('text').attr('fill', '#1a1a1a')
  })

  // minor ticks outside (left / bottom) and inner ticks (top / right)
  const xMinor = minorTicks(p.xd, p.xm, p.xt)
  const yMinor = minorTicks(p.yd, p.ym, p.yt)
  const tk = g.append('g').attr('stroke', INK).attr('stroke-width', 1.1)
  xMinor.forEach(v => {
    tk.append('line').attr('x1', x(v)).attr('x2', x(v)).attr('y1', bottom).attr('y2', bottom + 3)
    tk.append('line').attr('x1', x(v)).attr('x2', x(v)).attr('y1', top).attr('y2', top + 3)
  })
  p.xt.forEach(v => tk.append('line').attr('x1', x(v)).attr('x2', x(v)).attr('y1', top).attr('y2', top + 6))
  yMinor.forEach(v => {
    tk.append('line').attr('y1', y(v)).attr('y2', y(v)).attr('x1', x0 - 3).attr('x2', x0)
    tk.append('line').attr('y1', y(v)).attr('y2', y(v)).attr('x1', x1 - 3).attr('x2', x1)
  })
  p.yt.forEach(v => tk.append('line').attr('y1', y(v)).attr('y2', y(v)).attr('x1', x1 - 6).attr('x2', x1))

  // axis titles
  g.append('text').attr('x', (x0 + x1) / 2).attr('y', bottom + 74)
    .attr('text-anchor', 'middle').attr('font-size', 20.5).attr('fill', '#1a1a1a')
    .text(xTitles[p.col])
  g.append('text')
    .attr('transform', `translate(${x0 - 52},${(top + bottom) / 2}) rotate(-90)`)
    .attr('text-anchor', 'middle').attr('font-size', 21).attr('fill', '#1a1a1a')
    .text(yTitles[p.row])

  // stats line
  const s = stats[i]
  const st = g.append('text').attr('x', x1 - 3).attr('y', top - 17)
    .attr('text-anchor', 'end').attr('font-size', 22).attr('fill', INK)
  st.append('tspan').text(`β (95% CI) = ${s[0]}, `)
  st.append('tspan').attr('font-style', 'italic').text('p')
  st.append('tspan').text(`=${s[1]}`)
})
</script>
</body>
</html>
